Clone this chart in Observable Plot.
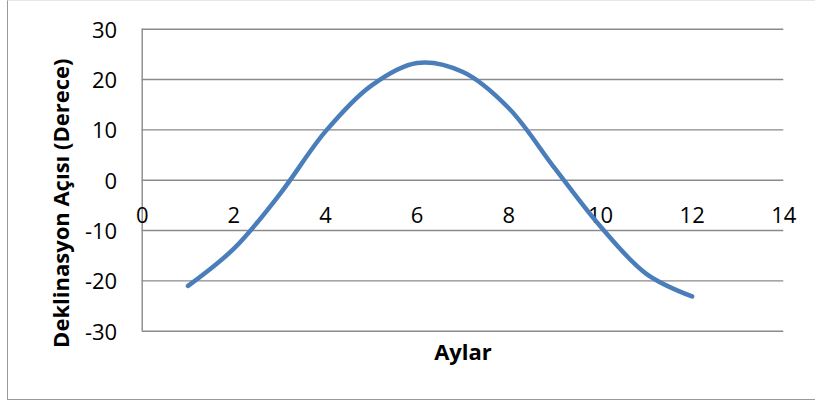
<!DOCTYPE html>
<html>
<head>
<meta charset="utf-8">
<script src="https://cdn.jsdelivr.net/npm/d3@7"></script>
<script src="https://cdn.jsdelivr.net/npm/@observablehq/plot@0.6"></script>
<style>
  html, body { margin: 0; padding: 0; background: #fff; }
  #wrap { position: relative; width: 815px; height: 407px; overflow: hidden; }
  #border { position: absolute; left: 7px; top: 0px; width: 830px; height: 400px;
    border-left: 1.5px solid #9a9a9a; border-bottom: 1.5px solid #9a9a9a; border-top: 1px solid #e6e6e6; box-sizing: border-box; }
  #chart { position: absolute; left: 0; top: 0; }
</style>
</head>
<body>
<div id="wrap"><div id="border"></div><div id="chart"></div></div>
<script>
const months = [1, 2, 3, 4, 5, 6, 7, 8, 9, 10, 11, 12];
const declination = [-21, -13.6, -2.8, 9.7, 18.8, 23.3, 21.5, 14.3, 2.4, -9.2, -18.6, -23.1];
const xTicks = [0, 2, 4, 6, 8, 10, 12, 14];
const yTicks = [-30, -20, -10, 0, 10, 20, 30];
const xTitle = "Aylar";
const yTitle = "Deklinasyon Açısı (Derece)";

const data = months.map((m, i) => ({ month: m, value: declination[i] }));
const font = "'Open Sans', 'Liberation Sans', sans-serif";
const grid = "#8a8a8a";

const plot = Plot.plot({
  width: 815,
  height: 407,
  marginLeft: 141.7,
  marginRight: 31.7,
  marginTop: 28.7,
  marginBottom: 76.3,
  style: { fontFamily: font, background: "transparent", overflow: "visible" },
  x: { domain: [0, 14], axis: null },
  y: { domain: [-30, 30] },
  marks: [
    Plot.ruleY(yTicks, { x1: 0, x2: 14, stroke: grid, strokeWidth: 1.4 }),
    Plot.ruleX([0], { y1: -30, y2: 30, stroke: grid, strokeWidth: 1.4 }),
    Plot.axisY(yTicks, { tickSize: 0, tickPadding: 25, fontSize: 22, fill: "#000", dy: 1.5, label: null, tickFormat: d => String(d) }),
    Plot.text(xTicks, { x: d => d, y: 0, dy: 36, text: d => String(d), fontSize: 22, fill: "#000", lineAnchor: "middle" }),
    Plot.line(data, { x: "month", y: "value", curve: "catmull-rom", stroke: "#4a7ebb", strokeWidth: 4.5, strokeLinecap: "round", strokeLinejoin: "round" }),
    Plot.text([xTitle], { frameAnchor: "bottom", dy: 22, text: d => d, fontSize: 22, fontWeight: "bold", fill: "#000", lineAnchor: "middle", textAnchor: "middle" }),
    Plot.text([yTitle], { frameAnchor: "left", dx: -80.5, dy: 23, rotate: -90, text: d => d, fontSize: 22, fontWeight: "bold", fill: "#000", lineAnchor: "middle", textAnchor: "middle" })
  ]
});
document.getElementById("chart").appendChild(plot);
</script>
</body>
</html>
